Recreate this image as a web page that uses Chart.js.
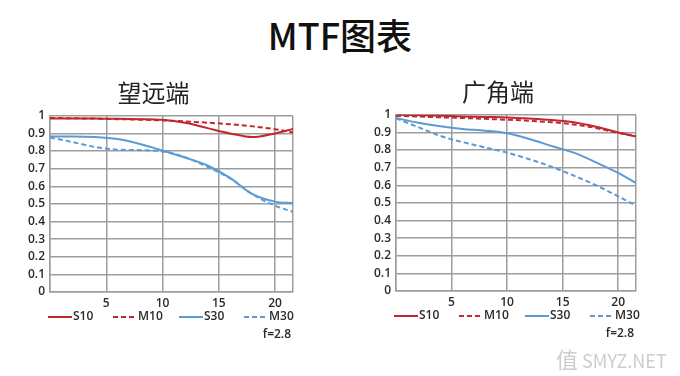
<!DOCTYPE html>
<html>
<head>
<meta charset="utf-8">
<script src="https://cdn.jsdelivr.net/npm/chart.js@4"></script>
<style>
  body { margin: 0; background: #fff; width: 680px; height: 376px; position: relative; overflow: hidden; }
  #main { position: absolute; left: 0; top: 11px; width: 680px; text-align: center;
          font: 500 36px "Noto Sans CJK SC", sans-serif; color: #111; line-height: 46px; }
  .box { position: absolute; }
  #mark { position: absolute; left: 556px; top: 342px; white-space: nowrap;
          font: 18px "Noto Sans CJK SC", sans-serif; color: #cdcdcd; }
  #mark b { font-weight: normal; font-size: 22px; }
</style>
</head>
<body>
<div id="main">MTF图表</div>
<div class="box" style="left:14px;top:66px;width:286px;height:294px"><canvas id="teleChart"></canvas></div>
<div class="box" style="left:360px;top:65px;width:283px;height:294px"><canvas id="wideChart"></canvas></div>
<div id="mark"><b>值</b> SMYZ.NET</div>
<script>
// distance from image centre (mm)
var distances = [0, 2, 4, 6, 8, 10, 12, 14, 16, 18, 20, 21.6];
var xTicks = [0, 5, 10, 15, 20, 21.6];
var yTicks = [0, 0.1, 0.2, 0.3, 0.4, 0.5, 0.6, 0.7, 0.8, 0.9, 1];
var seriesNames = ['S10', 'M10', 'S30', 'M30'];
var aperture = 'f=2.8';

// 望远端
var teleS10 = [0.985, 0.985, 0.984, 0.983, 0.981, 0.977, 0.96, 0.93, 0.9, 0.879, 0.9, 0.925];
var teleM10 = [0.988, 0.986, 0.984, 0.981, 0.978, 0.974, 0.968, 0.961, 0.952, 0.94, 0.924, 0.905];
var teleS30 = [0.883, 0.883, 0.88, 0.868, 0.84, 0.803, 0.763, 0.718, 0.648, 0.555, 0.513, 0.504];
var teleM30 = [0.877, 0.851, 0.823, 0.808, 0.805, 0.798, 0.765, 0.71, 0.645, 0.555, 0.49, 0.455];

// 广角端
var wideS10 = [1.0, 0.997, 0.994, 0.991, 0.988, 0.985, 0.979, 0.971, 0.958, 0.932, 0.9, 0.876];
var wideM10 = [0.995, 0.99, 0.986, 0.982, 0.977, 0.972, 0.966, 0.958, 0.945, 0.925, 0.897, 0.88];
var wideS30 = [0.982, 0.955, 0.935, 0.92, 0.91, 0.895, 0.863, 0.823, 0.785, 0.73, 0.67, 0.613];
var wideM30 = [0.98, 0.93, 0.88, 0.845, 0.815, 0.785, 0.748, 0.705, 0.655, 0.6, 0.537, 0.484];

var RED = '#c1272d';
var BLUE = '#5b9bd5';
var GRID = '#9d9d9d';
var TEXT = '#2a2a2a';
var FONT = '"Open Sans", sans-serif';

function pts(vals) {
  return vals.map(function (v, i) { return { x: distances[i], y: v }; });
}

// legend row + aperture note under the plot, placed from the chart area
var mtfLegend = {
  id: 'mtfLegend',
  afterDraw: function (chart) {
    var c = chart.ctx, a = chart.chartArea;
    var y = a.bottom + 25;
    var offsets = [-2, 63, 129, 194];
    c.save();
    c.font = '600 12px ' + FONT;
    c.textBaseline = 'middle';
    c.fillStyle = TEXT;
    chart.data.datasets.forEach(function (ds, i) {
      var x = a.left + offsets[i];
      c.strokeStyle = ds.borderColor;
      c.lineWidth = 2;
      c.setLineDash(ds.borderDash || []);
      c.beginPath();
      c.moveTo(x, y);
      c.lineTo(x + 24, y);
      c.stroke();
      c.fillText(ds.label, x + 25, y);
    });
    c.textAlign = 'right';
    c.fillText(aperture, a.right - 2, a.bottom + 43);
    c.restore();
  }
};

function makeChart(id, title, s10, m10, s30, m30) {
  var ctx = document.getElementById(id).getContext('2d');
  return new Chart(ctx, {
    type: 'line',
    data: {
      datasets: [
        { label: seriesNames[0], data: pts(s10), borderColor: RED, borderWidth: 2 },
        { label: seriesNames[1], data: pts(m10), borderColor: RED, borderWidth: 2, borderDash: [5, 3] },
        { label: seriesNames[2], data: pts(s30), borderColor: BLUE, borderWidth: 2 },
        { label: seriesNames[3], data: pts(m30), borderColor: BLUE, borderWidth: 2, borderDash: [5, 3] }
      ]
    },
    plugins: [mtfLegend],
    options: {
      responsive: true,
      maintainAspectRatio: false,
      animation: false,
      layout: { padding: { right: 7 } },
      elements: {
        point: { radius: 0 },
        line: { cubicInterpolationMode: 'monotone', backgroundColor: 'transparent' }
      },
      plugins: {
        title: {
          display: true,
          text: title,
          color: '#222',
          font: { family: '"Noto Sans CJK SC"', size: 24, weight: 'normal' },
          padding: { top: 12, bottom: 9 }
        },
        legend: { display: false },
        tooltip: { enabled: false }
      },
      scales: {
        x: {
          type: 'linear',
          min: 0,
          max: 21.6,
          afterBuildTicks: function (s) { s.ticks = xTicks.map(function (v) { return { value: v }; }); },
          afterFit: function (s) { s.height = 68; },
          grid: { color: GRID, lineWidth: 1.5, drawTicks: false },
          border: { color: GRID, width: 1.5 },
          ticks: {
            autoSkip: false,
            maxRotation: 0,
            padding: 4,
            color: TEXT,
            font: { family: FONT, size: 12, weight: '600' },
            callback: function (v) { return (v === 0 || v > 21) ? '' : v; }
          }
        },
        y: {
          min: 0,
          max: 1,
          afterBuildTicks: function (s) { s.ticks = yTicks.map(function (v) { return { value: v }; }); },
          afterFit: function (s) { s.width = 36; },
          grid: { color: GRID, lineWidth: 1.5, drawTicks: false },
          border: { color: GRID, width: 1.5 },
          ticks: {
            autoSkip: false,
            padding: 5,
            color: TEXT,
            font: { family: FONT, size: 12, weight: '600' },
            callback: function (v) { return (v === 0 || v === 1) ? String(v) : v.toFixed(1); }
          }
        }
      }
    }
  });
}

document.addEventListener('DOMContentLoaded', function () {
  makeChart('teleChart', '望远端', teleS10, teleM10, teleS30, teleM30);
  makeChart('wideChart', '广角端', wideS10, wideM10, wideS30, wideM30);
});
</script>
</body>
</html>
